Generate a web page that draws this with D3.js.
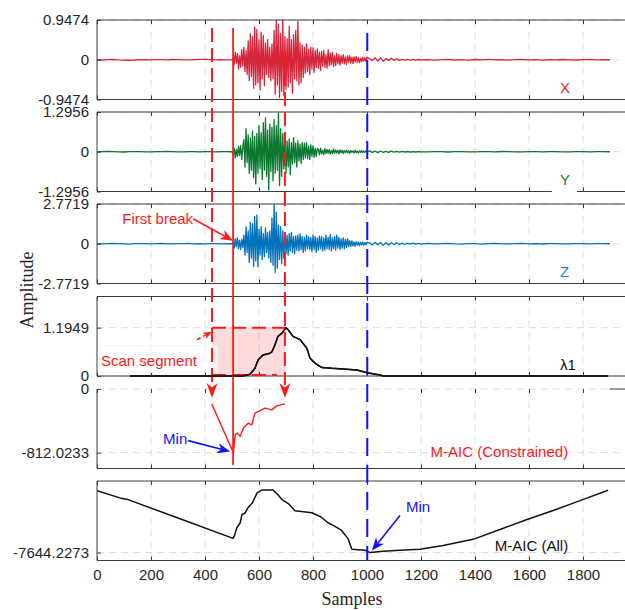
<!DOCTYPE html>
<html>
<head>
<meta charset="utf-8">
<script src="https://cdn.jsdelivr.net/npm/d3@7/dist/d3.min.js"></script>
<style>
body { margin: 0; background: #fff; }
svg { display: block; font-family: "Liberation Sans", Arial, sans-serif; }
</style>
</head>
<body>
<div id="chart"></div>
<script>
// ---------- values ----------
var xTicks = [0, 200, 400, 600, 800, 1000, 1200, 1400, 1600, 1800];

// waveforms: pre-event (step 20 from 0), burst (step 4 from 504),
// coda (step 10 from 1010), tail (step 25 from 1225)
var xPre = [0.004,-0.006,0.002,0.008,-0.003,-0.01,-0.012,-0.006,0.003,0,-0.004,0.005,0.002,-0.003,0.006,0.004,-0.002,-0.005,0.002,0.007,0.01,0.004,-0.003,0.002,-0.001,0];
var xBurst = [0.02,-0.12,0.18,-0.08,0.15,-0.22,0.1,-0.18,0.24,-0.15,
  0.3,-0.28,0.22,-0.35,
  0.45,-0.5,0.62,-0.4,0.55,-0.68,0.78,-0.6,0.72,-0.55,0.48,-0.72,0.66,-0.45,0.58,-0.62,0.4,
  -0.35,0.48,-0.42,0.3,-0.5,0.38,-0.45,
  0.7,-0.82,0.94,-0.6,0.85,-0.9,0.62,-0.75,0.95,-0.84,0.55,-0.7,0.5,
  -0.65,0.8,-0.55,0.48,-0.8,0.6,-0.45,0.7,-0.5,0.92,-0.6,0.4,-0.55,0.35,-0.42,0.3,
  -0.32,0.38,-0.28,0.25,-0.35,0.3,-0.22,0.28,-0.3,0.22,-0.18,0.26,-0.2,0.18,-0.25,
  0.2,-0.15,0.22,-0.18,0.12,-0.2,0.24,-0.14,0.16,-0.12,0.18,-0.16,0.1,-0.14,0.15,-0.1,0.12,-0.13,
  0.1,-0.08,0.12,-0.1,0.07,-0.11,0.09,-0.06,0.1,-0.08,0.06,-0.09,0.07,-0.05,0.08,-0.06,0.05,-0.07,0.04,-0.05,0.06,-0.03,0.05,-0.04,0.06];
var xCoda = [0.02,-0.02,0.05,-0.03,0.045,-0.04,0.03,-0.02,0.035,-0.015,0.02,-0.015,0.012,-0.01,0.01,-0.012,0.006,-0.008,0.006,-0.004];
var xTail = [0.005,-0.008,0.004,0.01,-0.006,0.003,-0.01,0.006,-0.004,0.008,-0.005,0.002,-0.007,0.004,0.006,-0.003,0.005,-0.008,0.003,-0.004,0.006,-0.002,-0.006,0.004,0.007,-0.003,0.002,0];

var yPre = [-0.006,0.004,0.008,0.002,-0.005,-0.008,0.003,0.006,0.001,-0.004,-0.007,0.002,0.005,0.008,0.003,-0.003,-0.006,0.002,0.004,-0.002,0.006,0.003,-0.004,0.002,0.004,0];
var yBurst = [-0.1,0.12,-0.2,0.08,-0.15,0.18,-0.12,0.2,-0.25,0.15,
  0.4,-0.5,0.75,-0.35,0.55,-0.7,0.45,-0.6,0.68,-0.85,0.5,-1.05,0.6,
  -0.7,0.85,-0.55,0.62,-0.9,0.95,-0.6,1.1,-0.8,0.7,-1.25,0.9,-0.65,0.8,-0.95,1.05,-0.7,0.85,-0.6,1.26,-1.1,0.75,-0.8,0.6,-0.55,
  0.45,-0.7,0.35,-0.5,0.42,-0.75,0.3,-0.4,0.46,-0.35,0.28,-0.5,0.35,-0.3,0.25,-0.38,0.3,-0.25,
  0.28,-0.2,0.3,-0.22,0.18,-0.25,0.22,-0.15,0.2,-0.18,0.12,-0.15,0.1,
  0.08,-0.1,0.12,-0.07,0.05,-0.09,0.1,-0.06,0.08,-0.05,0.07,-0.08,0.04,-0.06,0.09,-0.05,0.06,-0.04,0.05,-0.07,0.06,-0.03,0.05,-0.06,0.04,-0.03,
  0.05,-0.04,0.03,-0.05,0.04,-0.02,0.03,-0.04,0.05,-0.03,0.02,-0.04,0.03,-0.02,0.04,-0.03,0.02,-0.02,0.03,-0.01];
var yCoda = [0.03,-0.02,0.02,-0.03,0.025,-0.02,0.015,-0.02,0.02,-0.015,0.01,-0.015,0.01,-0.008,0.008,-0.01,0.006,-0.008,0.004,-0.006];
var yTail = [-0.004,0.006,0.002,-0.008,0.004,0.007,-0.003,-0.006,0.005,0.002,-0.004,0.008,0.003,-0.005,-0.002,0.006,0.004,-0.007,0.002,0.005,-0.003,-0.006,0.004,0.002,-0.004,0.006,0.001,0];

var zPre = [0.01,-0.015,0.005,0.02,0.008,-0.01,-0.02,0.004,0.015,0.006,-0.012,0.008,0.018,-0.006,-0.015,0.004,0.012,0.02,-0.008,0.006,-0.01,0.01,0.004,-0.006,0.008,0];
var zBurst = [0.15,-0.3,0.35,-0.2,0.4,-0.35,0.25,-0.4,0.3,-0.25,
  0.6,-0.8,1.2,-0.6,0.9,-1.3,1.5,-1.0,1.4,-1.6,1.9,-1.2,2.0,
  -1.6,1.0,-0.8,1.2,-1.1,0.7,-0.9,1.1,-0.6,0.8,-1.0,0.9,
  -1.3,1.8,-1.5,2.77,-2.0,2.2,-1.7,
  1.3,-1.1,1.2,-1.4,0.9,-1.0,0.8,-0.7,
  0.6,-0.8,0.7,-0.5,0.8,-0.6,0.5,-0.7,0.55,-0.45,0.6,-0.5,0.7,-0.4,0.5,-0.6,0.45,-0.5,0.6,-0.35,0.5,-0.4,
  0.45,-0.55,0.6,-0.4,0.5,-0.6,0.4,-0.45,0.55,-0.35,0.5,-0.5,0.4,-0.45,0.6,-0.35,0.45,-0.4,0.65,-0.5,0.4,-0.35,0.5,-0.45,0.6,-0.3,0.45,-0.4,0.35,-0.3,0.4,-0.35,0.3,-0.25,0.35,-0.2,
  0.22,-0.18,0.2,-0.15,0.12,-0.18,0.15,-0.1,0.12,-0.14,0.1,-0.08,0.12,-0.1,0.08,-0.06,0.1];
var zCoda = [0.06,-0.08,0.1,-0.07,0.09,-0.1,0.07,-0.08,0.07,-0.05,0.06,-0.05,0.04,-0.05,0.05,-0.03,0.04,-0.03,0.02,-0.03];
var zTail = [0.02,-0.015,0.01,0.025,-0.01,-0.02,0.015,0.01,-0.02,0.005,0.02,-0.012,-0.008,0.015,0.02,-0.01,0.008,-0.018,0.01,0.015,-0.005,-0.015,0.012,0.006,-0.01,0.014,0.004,0];

// largest eigenvalue λ1
var lambdaSamples = [122, 540, 567, 585, 597, 615, 626, 641, 648, 659, 670, 685, 700, 708, 726, 752, 777, 789, 807, 833, 870, 911, 963, 1000, 1048, 1060, 1893];
var lambdaValues  = [0, 0, 0.042, 0.19, 0.40, 0.52, 0.54, 0.565, 0.6, 0.77, 0.98, 1.06, 1.1949, 1.145, 0.98, 0.90, 0.69, 0.44, 0.32, 0.21, 0.19, 0.174, 0.15, 0.08, 0.025, 0, 0];

// M-AIC inside the scan segment
var aicConSamples = [425, 462, 505, 512, 520, 530, 542, 560, 573, 585, 604, 622, 647, 665, 696];
var aicConValues  = [-190, -478, -812.0233, -584, -563, -605, -499, -436, -457, -309, -275, -245, -266, -216, -190];

// M-AIC over the whole record
var aicAllSamples = [0, 85, 115, 300, 504, 510, 518, 530, 537, 548, 559, 575, 593, 611, 652, 670, 685, 710, 733, 796, 830, 855, 880, 907, 930, 944, 956, 993, 1011, 1060, 1122, 1196, 1282, 1393, 1500, 1593, 1700, 1789, 1893];
var aicAllValues  = [-6087, -6269, -6312, -6776, -7287, -7200, -7019, -6900, -6687, -6650, -6519, -6400, -6144, -6069, -6069, -6190, -6312, -6420, -6594, -6644, -6750, -6894, -6980, -7094, -7300, -7562, -7569, -7587, -7644.2273, -7610, -7587, -7562, -7469, -7312, -7044, -6812, -6560, -6337, -6077];

var firstBreak = 504, scanStart = 426, scanEnd = 696, allMin = 1001;

// ---------- layout ----------
var W = 625, H = 610;
var panelTops = [20, 112, 204, 296.5, 389, 481];
var panelH = 79.5;
var axisColor = "#3c3c3c", textColor = "#262626", gridColor = "#dcdcdc";

function series(pre, burst, coda, tail) {
    var out = [];
    pre.forEach(function (v, i) { out.push([i * 20, v]); });
    burst.forEach(function (v, i) { out.push([504 + i * 4, v]); });
    coda.forEach(function (v, i) { out.push([1010 + i * 10, v]); });
    tail.forEach(function (v, i) { out.push([1225 + i * 25, v]); });
    return out;
}
function pairs(s, v) { return s.map(function (d, i) { return [d, v[i]]; }); }

var panels = [
    {domain: [-0.9474, 0.9474], ticks: [-0.9474, 0, 0.9474], labels: ["-0.9474", "0", "0.9474"],
     data: series(xPre, xBurst, xCoda, xTail), color: "#d6263b", width: 1.3, name: "X", nameColor: "#f01e1e"},
    {domain: [-1.2956, 1.2956], ticks: [-1.2956, 0, 1.2956], labels: ["-1.2956", "0", "1.2956"],
     data: series(yPre, yBurst, yCoda, yTail), color: "#0b7a30", width: 1.3, name: "Y", nameColor: "#0b8a2e"},
    {domain: [-2.7719, 2.7719], ticks: [-2.7719, 0, 2.7719], labels: ["-2.7719", "0", "2.7719"],
     data: series(zPre, zBurst, zCoda, zTail), color: "#0072bd", width: 1.3, name: "Z", nameColor: "#1a86d0"},
    {domain: [0, 1.9665], ticks: [0, 1.1949], labels: ["0", "1.1949"],
     data: pairs(lambdaSamples, lambdaValues), color: "#111", width: 1.5, name: "λ1", nameColor: "#111"},
    {domain: [-1015, 0], ticks: [-812.0233, 0], labels: ["-812.0233", "0"],
     data: pairs(aicConSamples, aicConValues), color: "#ff1a1a", width: 1.4, noTop: true},
    {domain: [-7844, -5844], ticks: [-7644.2273], labels: ["-7644.2273"],
     data: pairs(aicAllSamples, aicAllValues), color: "#111", width: 1.5, xLabels: true}
];

var svg = d3.select("#chart").append("svg").attr("width", W).attr("height", H);
var x = d3.scaleLinear().domain([0, 2000]).range([97, 637]);

svg.append("defs").append("clipPath").attr("id", "plotClip")
    .append("rect").attr("x", 97).attr("y", 0).attr("width", W - 97).attr("height", H);

panels.forEach(function (p, i) {
    var top = panelTops[i], bot = top + panelH;
    p.y = d3.scaleLinear().domain(p.domain).range([bot, top]);
    var g = svg.append("g");

    // dashed grid
    g.selectAll(".vgrid").data(xTicks.filter(function (d) { return d > 0; })).enter().append("line")
        .attr("x1", function (d) { return x(d); }).attr("x2", function (d) { return x(d); })
        .attr("y1", top).attr("y2", bot)
        .attr("stroke", gridColor).attr("stroke-dasharray", "7,5");
    g.selectAll(".hgrid").data(p.ticks).enter().append("line")
        .attr("x1", 97).attr("x2", W)
        .attr("y1", function (d) { return p.y(d); }).attr("y2", function (d) { return p.y(d); })
        .attr("stroke", gridColor).attr("stroke-dasharray", "7,5");

    // the curve
    g.append("path").datum(p.data)
        .attr("clip-path", "url(#plotClip)")
        .attr("d", d3.line().x(function (d) { return x(d[0]); }).y(function (d) { return p.y(d[1]); }))
        .attr("fill", "none").attr("stroke", p.color).attr("stroke-width", p.width)
        .attr("stroke-linejoin", "round");

    // axes
    var bottomAxis = d3.axisBottom(x).tickValues(xTicks).tickSize(-4).tickSizeOuter(0).tickPadding(9)
        .tickFormat(p.xLabels ? d3.format("d") : "");
    var gb = g.append("g").attr("transform", "translate(0," + bot + ")").call(bottomAxis);
    var gt = g.append("g").attr("transform", "translate(0," + top + ")")
        .call(d3.axisTop(x).tickValues(xTicks).tickSize(-4).tickSizeOuter(0).tickFormat(""));
    var gl = g.append("g").attr("transform", "translate(97,0)")
        .call(d3.axisLeft(p.y).tickValues(p.ticks).tickSize(-4).tickSizeOuter(0).tickPadding(8)
            .tickFormat(function (d, k) { return p.labels[k]; }));
    [gb, gt, gl].forEach(function (a) {
        a.select(".domain").remove();
        a.selectAll(".tick line").attr("stroke", axisColor);
        a.selectAll(".tick text").attr("fill", textColor).style("font-size", "15px")
            .style("font-family", "'Liberation Sans', Arial, sans-serif");
    });

    // frame (the right edge falls outside the picture)
    g.append("line").attr("x1", 97).attr("x2", 97).attr("y1", top).attr("y2", bot).attr("stroke", axisColor);
    g.append("line").attr("x1", 97).attr("x2", W).attr("y1", bot).attr("y2", bot).attr("stroke", axisColor);
    if (!p.noTop) {
        g.append("line").attr("x1", 97).attr("x2", W).attr("y1", top).attr("y2", top).attr("stroke", axisColor);
    }

    if (p.name) {
        g.append("text").attr("x", x(1715)).attr("y", top + 73).attr("fill", p.nameColor)
            .style("font-size", "15px").text(p.name);
    }
});

// small leftovers of the original layout
svg.append("line").attr("x1", x(1898)).attr("x2", W).attr("y1", panelTops[4]).attr("y2", panelTops[4])
    .attr("stroke", "#999").attr("stroke-width", 2);
svg.append("rect").attr("x", x(1685)).attr("y", panelTops[1] + panelH - 1.5).attr("width", 25).attr("height", 3)
    .attr("fill", "#fff");

// ---------- annotations ----------
var ann = svg.append("g");
var p3 = panels[2], p4 = panels[3], p5 = panels[4], p6 = panels[5];

function arrowHead(g, tx, ty, ang, len, wid, color) {
    var pts = [[0, 0], [-len, -wid / 2], [-len * 0.7, 0], [-len, wid / 2]];
    var c = Math.cos(ang), s = Math.sin(ang);
    g.append("polygon")
        .attr("points", pts.map(function (q) {
            return (tx + q[0] * c - q[1] * s) + "," + (ty + q[0] * s + q[1] * c);
        }).join(" "))
        .attr("fill", color);
}
function arrow(g, x1, y1, x2, y2, color, len, dash) {
    var ang = Math.atan2(y2 - y1, x2 - x1);
    g.append("line").attr("x1", x1).attr("y1", y1)
        .attr("x2", x2 - Math.cos(ang) * len * 0.7).attr("y2", y2 - Math.sin(ang) * len * 0.7)
        .attr("stroke", color).attr("stroke-width", 1.6)
        .attr("stroke-dasharray", dash ? "4,3" : null);
    arrowHead(g, x2, y2, ang, len, len * 0.8, color);
}

// scan segment box in the λ1 panel
var sx0 = x(scanStart), sx1 = x(scanEnd), sy0 = p4.y(1.1949), sy1 = p4.y(0);
ann.append("rect").attr("x", sx0).attr("y", sy0).attr("width", sx1 - sx0).attr("height", sy1 - sy0)
    .attr("fill", "rgba(255,0,0,0.14)");
ann.append("line").attr("x1", sx0).attr("x2", sx1).attr("y1", sy0).attr("y2", sy0)
    .attr("stroke", "#ff1a1a").attr("stroke-width", 2).attr("stroke-dasharray", "14,6");
ann.append("line").attr("x1", sx0).attr("x2", sx1 - 8).attr("y1", sy1 - 1).attr("y2", sy1 - 1)
    .attr("stroke", "#ff1a1a").attr("stroke-width", 2).attr("stroke-dasharray", "14,6");
// redraw λ1 over the box
svg.append("path").datum(p4.data)
    .attr("d", d3.line().x(function (d) { return x(d[0]); }).y(function (d) { return p4.y(d[1]); }))
    .attr("fill", "none").attr("stroke", "#111").attr("stroke-width", 1.5);
ann.append("rect").attr("x", 100).attr("y", sy0 + 18).attr("width", sx0 + 6 - 100).attr("height", 27)
    .attr("fill", "rgba(255,255,255,0.6)").attr("stroke", "#f0f0f0").attr("stroke-width", 0.6);

// dashed segment edges with arrows into the constrained M-AIC panel
[[scanStart, panelTops[0] + 8], [scanEnd, panelTops[0] + 32]].forEach(function (d) {
    ann.append("line").attr("x1", x(d[0])).attr("x2", x(d[0]))
        .attr("y1", d[1]).attr("y2", panelTops[4] - 4)
        .attr("stroke", "#ff1a1a").attr("stroke-width", 2).attr("stroke-dasharray", "14,6");
    arrowHead(ann, x(d[0]), panelTops[4] + 9, Math.PI / 2, 15, 11, "#ff1a1a");
});

// first-break line
ann.append("line").attr("x1", x(firstBreak)).attr("x2", x(firstBreak))
    .attr("y1", panelTops[0] + 8).attr("y2", panelTops[4] + 76)
    .attr("stroke", "#ff1a1a").attr("stroke-width", 1.8);

// minimum of the full M-AIC
ann.append("line").attr("x1", x(allMin)).attr("x2", x(allMin))
    .attr("y1", panelTops[0] + 13).attr("y2", panelTops[5] + panelH)
    .attr("stroke", "#1010ff").attr("stroke-width", 2).attr("stroke-dasharray", "18,9");

// labels and arrows
var fbx = x(firstBreak), fby = p3.y(0) - 3;
ann.append("text").attr("x", fbx - 40).attr("y", fby - 17).attr("text-anchor", "end")
    .attr("fill", "#ff1a1a").style("font-size", "15px").text("First break");
arrow(ann, fbx - 40, fby - 22, fbx, fby, "#ff1a1a", 13);

ann.append("text").attr("x", 101).attr("y", sy0 + 38).attr("fill", "#ff1a1a")
    .style("font-size", "15px").text("Scan segment");
arrow(ann, sx0 - 15, sy0 + 12, sx0, sy0 + 4, "#ff1a1a", 9, true);

var m5x = x(firstBreak) - 3, m5y = p5.y(-812.0233);
ann.append("text").attr("x", m5x - 67).attr("y", m5y - 9).attr("fill", "#1010ff")
    .style("font-size", "15px").text("Min");
arrow(ann, m5x - 42, m5y - 12, m5x, m5y - 1, "#1010ff", 13);

var m6x = x(1011) + 2, m6y = p6.y(-7644.2273) - 2;
ann.append("text").attr("x", m6x + 34).attr("y", m6y - 39).attr("fill", "#1010ff")
    .style("font-size", "15px").text("Min");
arrow(ann, m6x + 28, m6y - 35, m6x, m6y, "#1010ff", 13);

ann.append("text").attr("x", x(1745)).attr("y", p5.y(-812.0233) + 4).attr("text-anchor", "end")
    .attr("fill", "#ff1a1a").style("font-size", "15px").text("M-AIC (Constrained)");
ann.append("text").attr("x", x(1745)).attr("y", panelTops[5] + 70).attr("text-anchor", "end")
    .attr("fill", "#111").style("font-size", "15px").text("M-AIC (All)");

// axis titles
svg.append("text").attr("x", 352).attr("y", 605).attr("text-anchor", "middle")
    .attr("fill", textColor).style("font-family", "'Liberation Serif', 'Times New Roman', serif")
    .style("font-size", "18px").text("Samples");
svg.append("text").attr("transform", "translate(33,290) rotate(-90)").attr("text-anchor", "middle")
    .attr("fill", textColor).style("font-family", "'Liberation Serif', 'Times New Roman', serif")
    .style("font-size", "18px").text("Amplitude");
</script>
</body>
</html>
